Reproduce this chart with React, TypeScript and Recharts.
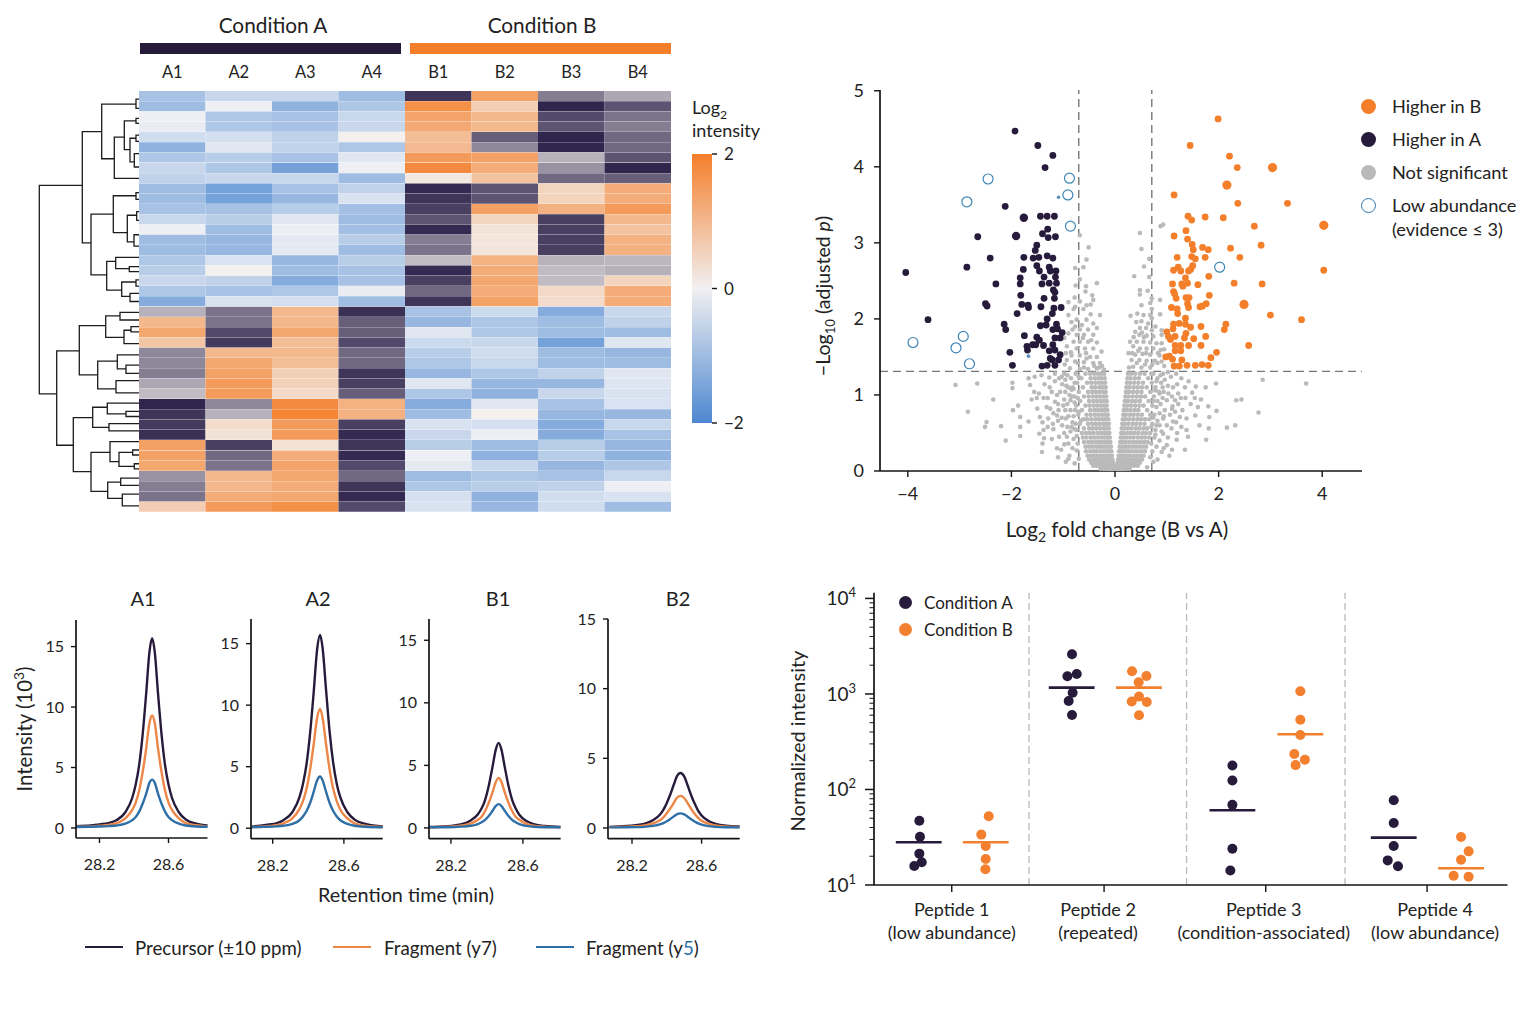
import React from "react";
import {
    BarChart,
    Bar,
    Cell,
    LineChart,
    Line,
    ScatterChart,
    Scatter,
    XAxis,
    YAxis,
    ReferenceLine,
} from "recharts";

const FONT = "Lato";
const DARK = "#271b3b";
const ORANGE = "#f47f2b";
const BLUE = "#2f6fa8";
const GREY = "#bababa";
const AXIS = "#141414";

// ---------- heatmap ----------
const sampleLabels = ["A1", "A2", "A3", "A4", "B1", "B2", "B3", "B4"];
const topRowCount = 21;
const heatA1 = [-.9, -1, -.05, -.1, -.4, -1.2, -.8, -.5, -.6, -1, -1, -.9, -.5, -.05, -1, -1, -.8, -.7, -.5, -.8, -1.3, -.6, 1, 1.3, .75, -1, -1, -1.1, -.7, -.5, -1.95, -1.8, -1.75, -1.85, 1.4, 1.4, 1.3, -.9, -1.1, -1.2, .6];
const heatA2 = [-.5, -.05, -.8, -.8, -.35, -.2, -.7, -.8, -.5, -1.5, -1.5, -.9, -.7, -1, -1.1, -1.1, -.3, 0, -.6, -.9, -.3, -1.2, -1.2, -1.6, -1.75, 1, 1.3, 1.4, 1.5, 1.5, -1, -.6, .35, .25, -1.7, -1.3, -1.2, 1, 1, 1.2, 1.5];
const heatA3 = [-.5, -1.2, -.9, -.9, -.6, -.6, -.9, -1.5, -.5, -.9, -1.1, -.7, -.2, -.05, -.15, -.15, -1.1, -1, -1.3, -.8, -.35, 1, 1, 1.3, .9, 1, .9, .55, .55, .4, 1.8, 1.9, 1.5, 1.5, .25, 1.2, 1.35, 1.3, 1.2, 1.3, 1.7];
const heatA4 = [-1, -.8, -.5, -.5, 0, -.8, -.2, -.05, -1, -.6, -.3, -.95, -1, -.95, -.7, -1, -.7, -.9, -.9, -.1, -1, -1.85, -1.4, -1.4, -1.6, -1.3, -1.3, -1.8, -1.7, -1.4, 1.1, 1.1, -1.7, -1.9, -1.8, -1.9, -1.6, -1.3, -1.8, -1.9, -1.6];
const heatB1 = [-1.8, 1.7, 1.35, 1.25, .9, .95, 1.5, 1.8, .15, -1.9, -1.8, -1.7, -1.5, -1.9, -1.1, -1.2, -.5, -1.9, -1.7, -1.3, -1.8, -.9, -1.1, -.2, -.45, -.7, -.8, -1.1, -.2, -.8, -1.3, -1, -.3, -.5, -.7, -.05, -.15, -1, -.8, -.35, -.3];
const heatB2 = [1.4, .6, 1, 1, -1.4, -1, 1.4, 1.2, .8, -1.5, -1.5, 1.4, .5, .25, .2, .2, 1.1, 1.2, 1.3, 1.2, 1.4, -.45, -.8, -.8, -.5, -.4, -.5, -.8, -1.1, -1.2, -.2, 0, -.35, -.05, -1, -1.2, -.5, -.8, -.7, -1.2, -1.1];
const heatB3 = [-1.1, -1.95, -1.6, -1.5, -1.95, -1.95, -.6, -.9, -1.3, .5, .5, 1.1, -1.7, -1.7, -1.7, -1.7, -.6, -.5, -.5, .4, .35, -1.3, -1, -1, -1.5, -1, -1, -.6, -1.1, -.5, -.9, -1.1, -1.3, -1.3, -.7, -.7, -1.1, -.9, -.6, -.4, -.4];
const heatB4 = [-.7, -1.5, -1.2, -1.1, -1.3, -1.3, -1.5, -1.95, -1.4, 1.2, 1.2, 1.5, 1, .8, 1.1, 1.1, -.55, -.6, .5, 1.2, 1.2, -.5, -.6, -1, -.2, -1.1, -1, -.2, -.25, -.3, -.3, -1.1, -.5, -.9, -1.1, -1.2, -.8, -.5, -.05, -.3, -1];
const heatColumns = [heatA1, heatA2, heatA3, heatA4, heatB1, heatB2, heatB3, heatB4];
const colorbarTicks = [-2, 0, 2];

// each link: child height, child row, merge height, other child row, other child height
const dendrogramLinks = [
    [56.7, 9.2, 99.7, 29.5, 82.3],
    [37.3, 3.96, 56.7, 14.8, 48],
    [3, 1.27, 37.3, 6.6, 24.7],
    [0, .8, 3, 1.7, 0],
    [14.7, 4.5, 24.7, 8.5, 0],
    [3, 2.9, 14.7, 5.7, 9],
    [0, 2.66, 3, 3.15, 0],
    [3, 4.6, 9, 6.9, 4.7],
    [0, 4.3, 3, 4.9, 0],
    [0, 6.1, 4.7, 7.4, 0],
    [25.7, 12, 48, 17.9, 32.3],
    [3, 10.2, 25.7, 13.8, 11.7],
    [0, 9.9, 3, 10.55, 0],
    [2.3, 12.1, 11.7, 14.7, 5],
    [0, 11.75, 2.3, 12.6, 0],
    [0, 14, 5, 15.1, 0],
    [23.3, 16.6, 32.3, 19.4, 17.3],
    [0, 16.2, 23.3, 17.3, 9.7],
    [0, 17.1, 9.7, 17.6, 0],
    [3, 18.6, 17.3, 20, 9],
    [0, 18.4, 3, 19, 0],
    [0, 19.7, 9, 20.5, 0],
    [59.7, 25.3, 82.3, 34.5, 65.7],
    [33.3, 22.85, 59.7, 27.65, 41.3],
    [19, 21.9, 33.3, 24, 15],
    [0, 21.55, 19, 22.3, 0],
    [8, 23.3, 15, 24.6, 0],
    [0, 22.95, 8, 23.45, 0],
    [21.7, 26.3, 41.3, 29, 23],
    [0, 25.7, 21.7, 27.07, 13],
    [0, 26.7, 13, 27.5, 0],
    [0, 28.2, 23, 29.4, 0],
    [46.3, 31.8, 65.7, 37.07, 48],
    [31.7, 30.8, 46.3, 32.75, 30],
    [0, 30.4, 31.7, 31.45, 13],
    [0, 31.2, 13, 31.7, 0],
    [0, 32.4, 30, 33.1, 0],
    [29, 35.2, 48, 39, 31.3],
    [0, 34.15, 29, 36.1, 20],
    [6.3, 35.2, 20, 36.55, 4.7],
    [0, 34.96, 6.3, 35.45, 0],
    [0, 36.3, 4.7, 36.8, 0],
    [18.3, 38.1, 31.3, 39.67, 16.7],
    [0, 37.7, 18.3, 38.4, 0],
    [0, 39.25, 16.7, 40.4, 0],
];

// ---------- volcano ----------
const higherB = [
    [1.99, 4.63], [1.45, 4.28], [2.21, 4.14], [2.36, 3.99], [1.14, 3.63], [2.37, 3.52], [3.33, 3.52], [1.41, 3.35], [1.74, 3.34], [2.09, 3.33],
    [1.48, 3.3], [2.69, 3.22], [1.37, 3.16], [1.14, 3.09], [1.4, 3.05], [1.49, 2.98], [1.51, 2.91], [1.69, 2.94], [1.8, 2.91], [2.23, 2.93],
    [2.82, 2.97], [1.2, 2.81], [1.48, 2.82], [1.55, 2.79], [1.74, 2.81], [2.41, 2.81], [1.5, 2.7], [1.13, 2.64], [1.22, 2.68], [1.27, 2.63],
    [1.42, 2.63], [1.46, 2.65], [4.03, 2.64], [1.81, 2.56], [1.36, 2.54], [1.11, 2.46], [1.29, 2.46], [1.31, 2.43], [1.4, 2.47], [1.6, 2.45],
    [2.3, 2.47], [2.84, 2.46], [1.13, 2.36], [1.15, 2.33], [1.18, 2.27], [1.37, 2.28], [1.43, 2.28], [1.82, 2.31], [1.4, 2.2], [1.76, 2.2],
    [1.09, 2.15], [1.42, 2.15], [1.64, 2.16], [1.69, 2.17], [1.2, 2.13], [1.21, 2.07], [1.36, 2.01], [3, 2.05], [3.6, 1.99], [1.13, 1.93],
    [1.24, 1.94], [1.36, 1.93], [1.66, 1.9], [2.14, 1.93], [2.11, 1.86], [1.46, 1.89], [1.12, 1.87], [1, 1.83], [1.37, 1.81], [1.75, 1.77],
    [1.03, 1.77], [1.16, 1.77], [1.34, 1.75], [1.07, 1.73], [1.52, 1.74], [2.58, 1.65], [1.16, 1.65], [1.27, 1.65], [1.42, 1.65], [1.66, 1.65],
    [1.16, 1.58], [1.27, 1.58], [1.96, 1.56], [1.05, 1.51], [.98, 1.5], [1.11, 1.47], [1.29, 1.46], [1.85, 1.49], [1.14, 1.38], [1.24, 1.38],
    [1.39, 1.39], [1.55, 1.39], [1.68, 1.4], [1.8, 1.39],
];
const higherBLarge = [[3.04, 3.99], [2.16, 3.76], [4.03, 3.23], [2.49, 2.19]];
const higherA = [
    [-1.93, 4.47], [-1.49, 4.28], [-1.2, 4.15], [-1.35, 3.99], [-2.12, 3.48], [-1.44, 3.35], [-1.31, 3.35], [-1.17, 3.35], [-2.65, 3.08], [-1.3, 3.18],
    [-1.4, 3.12], [-1.29, 3.07], [-1.15, 3.08], [-1.51, 2.97], [-1.54, 2.9], [-2.41, 2.8], [-1.76, 2.81], [-1.58, 2.8], [-1.47, 2.81], [-1.31, 2.83],
    [-1.2, 2.8], [-2.86, 2.68], [-4.04, 2.61], [-1.77, 2.65], [-1.51, 2.7], [-1.46, 2.63], [-1.27, 2.68], [-1.25, 2.63], [-1.14, 2.63], [-1.83, 2.54],
    [-1.37, 2.55], [-1.15, 2.55], [-1.83, 2.46], [-2.3, 2.46], [-1.41, 2.46], [-1.27, 2.47], [-1.13, 2.47], [-1.19, 2.38], [-1.16, 2.35], [-1.82, 2.31],
    [-1.37, 2.27], [-1.17, 2.27], [-2.5, 2.2], [-2.47, 2.17], [-1.8, 2.19], [-1.68, 2.18], [-1.67, 2.15], [-1.43, 2.16], [-1.18, 2.14], [-1.04, 2.15],
    [-1.21, 2.07], [-1.89, 2.07], [-1.31, 2], [-3.61, 1.99], [-2.14, 1.93], [-2.11, 1.86], [-1.33, 1.92], [-1.44, 1.91], [-1.13, 1.93], [-1.2, 1.86],
    [-1.11, 1.87], [-1.02, 1.82], [-1.75, 1.78], [-1.51, 1.76], [-1.16, 1.75], [-1.06, 1.75], [-1.46, 1.72], [-1.7, 1.64], [-1.69, 1.59], [-1.59, 1.66],
    [-1.53, 1.66], [-1.38, 1.65], [-1.2, 1.66], [-1.16, 1.59], [-1.27, 1.58], [-2.03, 1.56], [-1.06, 1.53], [-1.25, 1.48], [-1.21, 1.46], [-1.09, 1.46],
    [-1.98, 1.39], [-1.41, 1.38], [-1.31, 1.39], [-1.16, 1.39],
];
const higherALarge = [[-1.76, 3.33], [-1.91, 3.09]];
const lowAbundance = [[-2.45, 3.84], [-2.86, 3.54], [-.88, 3.85], [-.91, 3.63], [-.86, 3.22], [-2.93, 1.77], [-3.9, 1.69], [-3.07, 1.62], [-2.81, 1.41], [2.02, 2.68]];
const strayBlue = [[-1.09, 3.6], [-1.67, 1.51]];
const notSignificantSparse = [
    [-3.08, 1.13], [-2.66, 1.15], [-2.35, .94], [-2.84, .78], [-2.48, .645], [-2.51, .58], [-2.2, .59], [-2.11, .4], [-1.98, 1.16], [-1.98, 1.09],
    [-1.87, .86], [-1.97, .8], [-1.83, .71], [-1.67, .65], [-1.83, .58], [-1.83, .46], [-1.67, 1.22], [-1.64, 1.13], [-1.56, 1.04], [-1.47, 1.02],
    [-1.61, .94], [-1.51, .96], [-1.38, .96], [-1.3, .96], [-1.27, 1.23], [-1.26, 1.1], [-1.16, 1.18], [-1.06, 1.04], [-1.03, 1.24], [-1.16, .91],
    [-1.09, .8], [-1.19, .76], [-1.45, .71], [-1.4, .64], [-1.29, .69], [-1.03, .7], [-.95, .69], [-1.38, .54], [-1.46, .49], [-1.37, .43],
    [-1.4, .36], [-1.41, .25], [-1.1, .18], [-1.19, .55], [-1.04, .28], [-.93, .45], [-.9, .36], [-.84, .58], [-.86, .93], [-.84, 1.07], [-.77, .8],
    [2.85, 1.2], [3.69, 1.15], [2.44, .94], [2.34, .93], [2.77, .77], [2.16, .57], [2.32, .6], [1.76, .41], [1.81, .56], [1.63, .6],
    [1.41, .45], [1.35, .28], [1.96, .79], [1.8, .85], [1.82, .71], [1.55, .73], [1.66, .94], [1.95, 1.15], [1.75, 1.1], [1.56, 1.11],
    [1.49, 1.03], [1.35, 1.1], [1.28, 1.22], [1.36, .96], [1.27, .96], [1.54, .96], [1.12, 1.1], [1.03, 1.02], [1, .93], [1.16, .93],
    [1.11, .85], [1.16, .78], [1.06, .74], [.93, .69], [1.25, .71], [1.38, .69], [1.38, .54], [1.12, .65], [1.09, .56], [1.19, .41],
    [1, .34], [.9, .25], [1.05, .2], [.93, .49],
    [-.68, 3.1], [-.51, 2.94], [-.55, 2.78], [-.77, 2.67], [-.61, 2.68], [-.68, 2.52], [-.35, 2.47], [-.76, 2.44], [-.56, 2.43], [-.57, 2.36],
    [-.44, 2.31], [-.42, 2.25], [-.9, 2.22], [-.77, 2.16], [-.68, 2.23], [-.47, 2.19], [-.61, 2.13], [-.8, 2.13], [-.9, 2.05], [-.47, 2.06],
    [-.29, 2.05], [-.74, 1.99], [-.55, 1.99], [-.42, 1.94], [-.84, 1.96], [-.64, 1.92], [-.82, 1.86], [-.68, 1.86], [-.52, 1.86], [-.35, 1.88],
    [-.9, 1.81], [-.74, 1.79], [-.6, 1.79], [-.42, 1.79], [-.8, 1.7], [-.68, 1.7], [-.52, 1.7], [-.35, 1.69], [-.93, 1.64], [-.74, 1.61],
    [-.58, 1.61], [-.42, 1.61], [-.26, 1.57], [-.84, 1.52], [-.68, 1.52], [-.48, 1.5], [-.35, 1.5], [-.93, 1.46], [-.77, 1.44], [-.6, 1.43],
    [-.42, 1.42], [-.29, 1.42], [-.87, 1.35], [-.68, 1.34], [-.52, 1.34], [-.35, 1.35], [-.21, 1.33],
    [.93, 3.24], [.88, 3.22], [.48, 3.13], [.51, 2.92], [.66, 2.79], [.56, 2.69], [.37, 2.56], [.66, 2.55], [.48, 2.38], [.63, 2.37],
    [.48, 2.32], [.71, 2.27], [.87, 2.25], [.51, 2.18], [.68, 2.21], [.71, 2.13], [.43, 2.07], [.3, 2.04], [.55, 2.05], [.68, 2.05],
    [.87, 2.06], [.41, 1.96], [.51, 1.97], [.64, 1.94], [.71, 2.01], [.48, 1.88], [.6, 1.88], [.39, 1.83], [.71, 1.85], [.9, 1.85],
    [.47, 1.79], [.61, 1.78], [.74, 1.77], [.9, 1.79], [.29, 1.7], [.42, 1.7], [.55, 1.7], [.68, 1.69], [.8, 1.68], [.35, 1.64],
    [.48, 1.61], [.61, 1.61], [.74, 1.61], [.88, 1.59], [.26, 1.55], [.39, 1.53], [.53, 1.54], [.68, 1.53], [.86, 1.52], [.32, 1.46],
    [.47, 1.46], [.61, 1.45], [.77, 1.45], [.9, 1.44], [.35, 1.37], [.51, 1.36], [.68, 1.36], [.82, 1.42],
    // looser ring around the V
    [-.95, .12], [-.78, .1], [-.7, .16], [-.88, .2], [-.74, .27], [-.82, .3], [-.98, .35], [-.72, .36], [-1.12, .3], [-.8, .42],
    [-.98, .5], [-.74, .46], [-.86, .52], [-1.08, .45], [-1.22, .42], [-.78, .55], [-.92, .58], [-1.02, .6], [-1.2, .62], [-1.3, .58],
    [-.82, .64], [-.9, .72], [-.8, .72], [-1.1, .66], [-1.12, .73], [-.96, .8], [-.86, .8], [-1, .86], [-.92, .88], [-1.25, .82],
    [-1.32, .84], [-1.1, .88], [-.98, .94], [-.88, 1], [-.96, 1.04], [-1.12, 1], [-1.22, 1.04], [-.94, 1.12], [-1.02, 1.14], [-1.08, 1.22],
    [-.96, 1.2], [-1.16, 1.28], [-1.36, 1.14], [-1.42, 1.26], [-.98, 1.28], [-1.5, .82], [-1.55, 1.24], [-.9, .16],
    [.62, .05], [.74, .12], [.68, .18], [.82, .15], [.72, .26], [.94, .3], [.8, .32], [.7, .36], [.86, .4], [1.1, .28],
    [.76, .44], [1.02, .44], [.9, .52], [.78, .54], [1.2, .5], [.86, .6], [1, .6], [1.28, .58], [.82, .66], [1.18, .64],
    [.94, .72], [.86, .76], [1.3, .8], [.96, .8], [1.1, .82], [.88, .88], [1.22, .88], [.92, .96], [1.1, .98], [1.22, 1.02],
    [.94, 1.04], [1.02, 1.12], [1.2, 1.14], [.96, 1.2], [1.08, 1.24], [1.18, 1.28], [1.42, 1.18], [1.46, .88], [1.02, 1.3], [1.6, .84],
    [-.76, .62], [-.7, .78], [-.78, .9], [-.72, .96], [-.84, .98], [-.8, 1.08], [-.9, 1.1], [-.78, 1.16], [-.92, 1.26], [-.7, 1.24], [-.74, .54], [-.66, .66],
    [.8, .6], [.74, .7], [.8, .84], [.74, .92], [.86, 1.02], [.78, 1.06], [.92, 1.1], [.8, 1.18], [.88, 1.26], [.7, 1.28], [.78, .48], [.7, .58],
    // more of the cloud just above the threshold
    [-.85, 1.56], [-.55, 1.48], [-.72, 1.42], [-.6, 1.36], [-.4, 1.38], [-.77, 1.9], [-.62, 1.75], [-.46, 1.72], [-.56, 1.55], [-.3, 1.36],
    [-.25, 1.38], [-.97, 1.4], [-.95, 1.55], [-.98, 1.75], [-.78, 2.28], [-.55, 2.18],
    [.58, 1.4], [.42, 1.42], [.27, 1.36], [.72, 1.4], [.6, 1.55], [.45, 1.58], [.33, 1.55], [.56, 1.76], [.83, 1.55], [.95, 1.6],
    [.95, 1.38], [.9, 1.68], [.52, 1.82], [.78, 1.9], [.36, 1.76],
];
// the dense V is read band by band: [-log10 p, fold changes in that band]
const notSignificantBands: [number, number[]][] = [
    [.03, [-.28, -.22, -.17, -.13, -.1, -.07, -.04, 0, .04, .07, .1, .13, .17, .22, .28]],
    [.07, [-.42, -.36, -.3, -.25, -.2, -.15, -.1, -.06, -.02, .02, .06, .1, .15, .2, .25, .31, .37, .44]],
    [.11, [-.46, -.39, -.33, -.27, -.21, -.16, -.11, -.07, -.04, .05, .08, .12, .17, .23, .29, .35, .41, .48]],
    [.15, [-.5, -.43, -.37, -.3, -.24, -.18, -.13, -.08, -.05, .06, .09, .14, .2, .26, .32, .39, .45, .52]],
    [.2, [-.53, -.46, -.39, -.33, -.27, -.21, -.15, -.1, -.06, .07, .11, .16, .22, .28, .35, .42, .49, .55]],
    [.26, [-.56, -.48, -.41, -.35, -.28, -.22, -.17, -.12, -.07, .08, .13, .18, .24, .3, .37, .44, .51, .58]],
    [.32, [-.57, -.5, -.43, -.36, -.3, -.24, -.18, -.13, -.08, .09, .14, .2, .26, .33, .4, .47, .54, .6]],
    [.38, [-.6, -.52, -.45, -.38, -.31, -.25, -.19, -.14, -.09, .1, .15, .21, .28, .35, .42, .49, .56, .63]],
    [.44, [-.62, -.55, -.47, -.4, -.33, -.26, -.2, -.15, -.1, .11, .16, .22, .29, .36, .44, .51, .58, .66]],
    [.5, [-.64, -.56, -.49, -.42, -.34, -.27, -.21, -.16, -.11, .12, .17, .24, .31, .38, .45, .53, .6, .68]],
    [.56, [-.6, -.5, -.43, -.36, -.29, -.22, -.17, -.12, .13, .18, .25, .32, .4, .47, .55, .62]],
    [.62, [-.68, -.52, -.44, -.37, -.3, -.23, -.18, -.12, .14, .19, .26, .34, .41, .49, .57, .72]],
    [.68, [-.61, -.54, -.46, -.38, -.31, -.24, -.18, -.13, .15, .2, .27, .35, .43, .5, .58, .66]],
    [.74, [-.71, -.55, -.47, -.39, -.32, -.25, -.19, -.14, .16, .21, .29, .36, .44, .52, .68, .76]],
    [.8, [-.64, -.48, -.4, -.33, -.26, -.2, -.15, .17, .23, .3, .38, .45, .62]],
    [.86, [-.75, -.57, -.49, -.41, -.34, -.27, -.21, -.16, .18, .24, .31, .39, .47, .55, .72]],
    [.92, [-.67, -.5, -.42, -.35, -.28, -.22, -.16, .19, .25, .33, .4, .48, .65, .82]],
    [.98, [-.78, -.6, -.51, -.43, -.36, -.29, -.22, -.17, .2, .26, .34, .42, .5, .58, .75]],
    [1.04, [-.7, -.52, -.44, -.37, -.3, -.23, -.18, .21, .27, .35, .43, .51, .68, .85]],
    [1.1, [-.82, -.62, -.45, -.38, -.3, -.24, -.18, .22, .28, .36, .44, .52, .61, .78]],
    [1.16, [-.73, -.54, -.46, -.38, -.31, -.25, -.19, .23, .29, .37, .45, .54, .71, .89]],
    [1.22, [-.85, -.65, -.47, -.39, -.32, -.26, -.2, .24, .3, .38, .46, .64, .82]],
    [1.28, [-.76, -.57, -.48, -.4, -.33, -.27, -.21, .25, .31, .39, .48, .57, .74, .93]],
];
const foldThresholds = [-.7, .71];
const pThreshold = 1.31;
const volcanoXTicks = [-4, -2, 0, 2, 4];
const volcanoYTicks = [0, 1, 2, 3, 4, 5];

// ---------- chromatograms ----------
const rtA1 = [28.06, 28.15, 28.2, 28.25, 28.3, 28.35, 28.39, 28.41, 28.43, 28.45, 28.47, 28.49, 28.505, 28.52, 28.54, 28.56, 28.58, 28.6, 28.62, 28.66, 28.7, 28.76, 28.83];
const precursorA1 = [.15, .2, .3, .4, .65, 1.3, 2.5, 3.6, 5.2, 7.7, 11, 14.6, 15.7, 14.6, 11, 7.7, 5.2, 3.6, 2.5, 1.3, .7, .35, .2];
const y7A1 = [.1, .12, .18, .25, .4, .8, 1.5, 2.1, 3.1, 4.6, 6.5, 8.7, 9.3, 8.7, 6.5, 4.6, 3.1, 2.1, 1.5, .8, .4, .22, .12];
const y5A1 = [.08, .1, .12, .15, .2, .35, .65, .9, 1.35, 2, 2.8, 3.75, 4, 3.75, 2.8, 2, 1.35, .9, .65, .35, .2, .12, .1];
const rtA2 = [28.08, 28.13, 28.18, 28.22, 28.26, 28.31, 28.35, 28.37, 28.39, 28.41, 28.43, 28.45, 28.466, 28.48, 28.5, 28.52, 28.54, 28.56, 28.58, 28.62, 28.66, 28.72, 28.82];
const precursorA2 = [.15, .2, .3, .4, .65, 1.3, 2.5, 3.6, 5.2, 7.7, 11, 14.6, 15.7, 14.7, 11.2, 7.8, 5.3, 3.6, 2.5, 1.3, .7, .35, .15];
const y7A2 = [.1, .12, .18, .25, .4, .8, 1.55, 2.2, 3.2, 4.75, 6.8, 9, 9.7, 9, 6.8, 4.75, 3.2, 2.2, 1.5, .8, .4, .2, .1];
const y5A2 = [.08, .1, .12, .15, .2, .35, .65, .95, 1.4, 2.05, 2.95, 3.9, 4.2, 3.9, 2.95, 2.05, 1.4, .95, .65, .35, .2, .12, .08];
const rtB1 = [28.08, 28.13, 28.18, 28.22, 28.26, 28.31, 28.35, 28.37, 28.39, 28.41, 28.43, 28.45, 28.465, 28.48, 28.5, 28.52, 28.54, 28.56, 28.58, 28.62, 28.66, 28.72, 28.81];
const precursorB1 = [.08, .1, .14, .2, .3, .6, 1.1, 1.55, 2.25, 3.35, 4.8, 6.3, 6.8, 6.3, 4.8, 3.35, 2.25, 1.55, 1.05, .55, .3, .15, .08];
const y7B1 = [.06, .08, .1, .13, .2, .35, .65, .9, 1.35, 2, 2.8, 3.7, 4, 3.7, 2.8, 2, 1.35, .9, .65, .33, .18, .1, .06];
const y5B1 = [.05, .05, .06, .08, .1, .17, .3, .45, .65, .95, 1.35, 1.77, 1.9, 1.77, 1.35, .95, .65, .45, .3, .16, .09, .06, .05];
const rtB2 = [28.07, 28.12, 28.17, 28.22, 28.27, 28.32, 28.36, 28.38, 28.4, 28.42, 28.44, 28.46, 28.478, 28.5, 28.52, 28.54, 28.56, 28.58, 28.6, 28.64, 28.68, 28.74, 28.82];
const precursorB2 = [.08, .1, .14, .2, .3, .55, .95, 1.3, 1.8, 2.4, 3.1, 3.75, 3.95, 3.7, 3.05, 2.35, 1.75, 1.25, .9, .5, .3, .16, .1];
const y7B2 = [.06, .07, .09, .12, .18, .32, .55, .75, 1.05, 1.4, 1.8, 2.2, 2.3, 2.15, 1.78, 1.37, 1.02, .73, .52, .3, .18, .1, .06];
const y5B2 = [.04, .04, .05, .06, .08, .15, .25, .35, .48, .64, .83, 1, 1.05, .98, .81, .62, .47, .33, .24, .13, .08, .05, .04];
const intensityTicks = [0, 5, 10, 15];
const rtTicks = [28.2, 28.6];

// ---------- peptides ----------
const peptideNames = ["Peptide 1", "Peptide 2", "Peptide 3", "Peptide 4"];
const peptideNotes = ["(low abundance)", "(repeated)", "(condition-associated)", "(low abundance)"];
const peptideTicks = [.492, 1.456, 2.479, 3.5];
const peptideSeparators = [.981, 1.978, 2.981];
const conditionA = [
    [.287, 47], [.291, 32], [.287, 21.3], [.302, 17.3], [.255, 15.8],
    [1.253, 2600], [1.224, 1530], [1.283, 1620], [1.257, 1030], [1.232, 845], [1.253, 603],
    [2.268, 178], [2.268, 124], [2.268, 69], [2.268, 24], [2.255, 14.2],
    [3.289, 77], [3.289, 44.6], [3.289, 25.6], [3.251, 18.1], [3.316, 15.7],
];
const conditionB = [
    [.726, 52.4], [.679, 33.7], [.707, 25.6], [.707, 18.7], [.705, 14.6],
    [1.633, 1725], [1.724, 1542], [1.675, 1324], [1.677, 938], [1.631, 832], [1.726, 824], [1.677, 598],
    [2.698, 1067], [2.698, 538], [2.698, 372], [2.66, 235], [2.727, 205], [2.668, 180],
    [3.715, 31.8], [3.763, 22.5], [3.715, 18.4], [3.668, 12.5], [3.763, 12.2],
];
const meansA = [[.283, 28], [1.251, 1164], [2.268, 60.5], [3.289, 31.3]];
const meansB = [[.707, 28], [1.677, 1164], [2.698, 378], [3.715, 15]];
const meanHalfWidth = .145;
const logTicks = [10, 20, 30, 40, 50, 60, 70, 80, 90, 100, 200, 300, 400, 500, 600, 700, 800, 900, 1000, 2000, 3000, 4000, 5000, 6000, 7000, 8000, 9000, 10000];

const toPoints = (list: number[][]) => list.map(([x, y]) => ({ x, y }));

const mixHex = (a: string, b: string, t: number) => {
    const channel = (hex: string, i: number) => parseInt(hex.slice(1 + i * 2, 3 + i * 2), 16);
    const out = [0, 1, 2].map((i) => Math.round(channel(a, i) + (channel(b, i) - channel(a, i)) * t));
    return `rgb(${out.join(",")})`;
};

// the inactive condition of a row block is on the blue ramp, the active one runs dark to orange
const heatColor = (value: number, row: number, col: number) => {
    const active = row < topRowCount ? col >= 4 : col < 4;
    if (value >= 0) return mixHex("#f3f0ee", ORANGE, value / 2);
    if (active) return mixHex("#f3efec", "#2b2049", -value / 2);
    return mixHex("#f1f2f5", "#4d87d1", -value / 2);
};

const heatTable = heatA1.map((_, row) => {
    const entry: Record<string, number | string> = { row: String(row) };
    sampleLabels.forEach((label) => { entry[label] = 1; });
    return entry;
});

const dot = (r: number, fill: string, stroke = "none", strokeWidth = 0) => (props: any) => (
    <circle cx={props.cx} cy={props.cy} r={r} fill={fill} stroke={stroke} strokeWidth={strokeWidth} />
);

const Label = ({ x, y, size = 18, weight = 400, rotate = 0, align = "center", children }: any) => (
    <div
        style={{
            position: "absolute",
            left: x,
            top: y - 1,
            transform: `translate(${align === "center" ? "-50%" : "0"}, -50%) rotate(${rotate}deg)`,
            fontSize: size,
            fontWeight: weight,
            color: "#222",
            whiteSpace: "nowrap",
            lineHeight: 1,
        }}
    >
        {children}
    </div>
);

const Sub = ({ children }: any) => <sub style={{ fontSize: "68%", lineHeight: 0 }}>{children}</sub>;
const Sup = ({ children }: any) => <sup style={{ fontSize: "68%", lineHeight: 0 }}>{children}</sup>;

const LegendDot = ({ x, y, r, fill, stroke }: any) => (
    <div
        style={{
            position: "absolute",
            left: x - r,
            top: y - r,
            width: r * 2,
            height: r * 2,
            boxSizing: "border-box",
            borderRadius: "50%",
            background: fill,
            border: stroke ? `1.6px solid ${stroke}` : "none",
        }}
    />
);

const LegendLine = ({ x, y, width, color }: any) => (
    <div style={{ position: "absolute", left: x, top: y - 1, width, height: 2.4, background: color }} />
);

const minus = (v: number) => String(v).replace("-", "\u2212");
const axisLine = { stroke: AXIS, strokeWidth: 1.7 };
const tickLine = { stroke: AXIS, strokeWidth: 1.4 };

const Heatmap = () => (
    <div style={{ position: "absolute", left: 139, top: 58 }}>
        <BarChart
            width={532}
            height={454}
            data={heatTable}
            layout="vertical"
            barCategoryGap={0}
            margin={{ top: 0, right: 0, bottom: 0, left: 0 }}
        >
            <XAxis
                type="number"
                orientation="top"
                domain={[0, 8]}
                ticks={[.5, 1.5, 2.5, 3.5, 4.5, 5.5, 6.5, 7.5]}
                tickFormatter={(v: number) => sampleLabels[Math.floor(v)]}
                axisLine={false}
                tickLine={false}
                height={33}
                tickMargin={7}
                interval={0}
                tick={{ fill: "#222", fontSize: 16.5, fontFamily: FONT }}
            />
            <YAxis type="category" dataKey="row" hide />
            {sampleLabels.map((label, col) => (
                <Bar key={label} dataKey={label} stackId="heat" isAnimationActive={false}>
                    {heatColumns[col].map((value, row) => (
                        <Cell key={row} fill={heatColor(value, row, col)} />
                    ))}
                </Bar>
            ))}
        </BarChart>
    </div>
);

const Dendrogram = () => (
    <div style={{ position: "absolute", left: 38, top: 91 }}>
        <ScatterChart width={101} height={421} margin={{ top: 0, right: 0, bottom: 0, left: 0 }}>
            <XAxis type="number" dataKey="x" domain={[0, 101]} reversed hide />
            <YAxis type="number" dataKey="y" domain={[0, 41]} reversed hide />
            {dendrogramLinks.map(([h1, y1, merge, y2, h2], i) => (
                <Scatter
                    key={i}
                    data={[
                        { x: h1, y: y1 },
                        { x: merge, y: y1 },
                        { x: merge, y: y2 },
                        { x: h2, y: y2 },
                    ]}
                    line={{ stroke: "#1c1c1c", strokeWidth: 1.3 }}
                    shape={() => <g />}
                    isAnimationActive={false}
                />
            ))}
        </ScatterChart>
    </div>
);

const Colorbar = () => (
    <div style={{ position: "absolute", left: 692, top: 144 }}>
        <BarChart
            width={80}
            height={289}
            data={[{ name: "scale", range: [-2, 2] }]}
            barCategoryGap={0}
            margin={{ top: 10, right: 0, bottom: 10, left: 0 }}
        >
            <defs>
                <linearGradient id="heatRamp" x1="0" y1="0" x2="0" y2="1">
                    <stop offset="0%" stopColor={ORANGE} />
                    <stop offset="50%" stopColor="#f1f0f1" />
                    <stop offset="100%" stopColor="#4d87d1" />
                </linearGradient>
            </defs>
            <XAxis dataKey="name" hide />
            <YAxis
                orientation="right"
                type="number"
                domain={[-2, 2]}
                ticks={colorbarTicks}
                width={60}
                axisLine={false}
                tickLine={tickLine}
                tickSize={5}
                tickMargin={7}
                tickFormatter={minus}
                tick={{ fill: "#222", fontSize: 17, fontFamily: FONT }}
            />
            <Bar dataKey="range" fill="url(#heatRamp)" isAnimationActive={false} />
        </BarChart>
    </div>
);

const Volcano = () => {
    const greyPoints = [
        ...notSignificantBands.flatMap(([y, xs]) => xs.map((x) => ({ x, y }))),
        ...toPoints(notSignificantSparse),
    ];
    return (
        <div style={{ position: "absolute", left: 830, top: 80 }}>
            <ScatterChart width={540} height={430} margin={{ top: 10, right: 8, bottom: 0, left: 0 }}>
                <XAxis
                    type="number"
                    dataKey="x"
                    domain={[-4.537, 4.768]}
                    ticks={volcanoXTicks}
                    height={39}
                    axisLine={axisLine}
                    tickLine={tickLine}
                    tickSize={6}
                    tickMargin={10}
                    tickFormatter={minus}
                    allowDataOverflow
                    tick={{ fill: "#222", fontSize: 18, fontFamily: FONT }}
                />
                <YAxis
                    type="number"
                    dataKey="y"
                    domain={[0, 5.01]}
                    ticks={volcanoYTicks}
                    width={50}
                    axisLine={axisLine}
                    tickLine={tickLine}
                    tickSize={6}
                    tickMargin={10}
                    allowDataOverflow
                    tick={{ fill: "#222", fontSize: 18, fontFamily: FONT }}
                />
                <Scatter data={greyPoints} shape={dot(2.3, GREY)} isAnimationActive={false} />
                {foldThresholds.map((x) => (
                    <ReferenceLine key={x} x={x} stroke="#777" strokeWidth={1.4} strokeDasharray="8 5" />
                ))}
                <ReferenceLine y={pThreshold} stroke="#777" strokeWidth={1.4} strokeDasharray="8 5" />
                <Scatter data={toPoints(higherB)} shape={dot(3.4, ORANGE)} isAnimationActive={false} />
                <Scatter data={toPoints(higherBLarge)} shape={dot(4.6, ORANGE)} isAnimationActive={false} />
                <Scatter data={toPoints(higherA)} shape={dot(3.4, DARK)} isAnimationActive={false} />
                <Scatter data={toPoints(higherALarge)} shape={dot(4.2, DARK)} isAnimationActive={false} />
                <Scatter data={toPoints(strayBlue)} shape={dot(1.8, "#5b8fbd")} isAnimationActive={false} />
                <Scatter
                    data={toPoints(lowAbundance)}
                    shape={dot(5, "#fff", "#3f86b5", 1.2)}
                    isAnimationActive={false}
                />
            </ScatterChart>
        </div>
    );
};

const Chromatogram = ({ left, top, width, height, xDomain, yDomain, rt, precursor, y7, y5 }: any) => {
    const table = rt.map((t: number, i: number) => ({ t, precursor: precursor[i], y7: y7[i], y5: y5[i] }));
    return (
        <div style={{ position: "absolute", left: left - 40, top: top - 10 }}>
            <LineChart
                width={width + 46}
                height={height + 50}
                data={table}
                margin={{ top: 10, right: 6, bottom: 0, left: 0 }}
            >
                <XAxis
                    type="number"
                    dataKey="t"
                    domain={xDomain}
                    ticks={rtTicks}
                    height={40}
                    axisLine={axisLine}
                    tickLine={tickLine}
                    tickSize={5}
                    tickMargin={16}
                    allowDataOverflow
                    tickFormatter={(v: number) => v.toFixed(1)}
                    tick={{ fill: "#222", fontSize: 16, fontFamily: FONT }}
                />
                <YAxis
                    type="number"
                    domain={yDomain}
                    ticks={intensityTicks}
                    width={40}
                    axisLine={axisLine}
                    tickLine={tickLine}
                    tickSize={5}
                    tickMargin={7}
                    allowDataOverflow
                    tick={{ fill: "#222", fontSize: 16, fontFamily: FONT }}
                />
                <Line type="monotone" dataKey="precursor" stroke={DARK} strokeWidth={2.4} dot={false} isAnimationActive={false} />
                <Line type="monotone" dataKey="y7" stroke="#ec8748" strokeWidth={2.4} dot={false} isAnimationActive={false} />
                <Line type="monotone" dataKey="y5" stroke={BLUE} strokeWidth={2.4} dot={false} isAnimationActive={false} />
            </LineChart>
        </div>
    );
};

const LogTick = ({ x, y, payload }: any) => {
    const exponent = Math.log10(payload.value);
    const major = Math.abs(exponent - Math.round(exponent)) < 1e-6;
    return (
        <g>
            <line x1={x} x2={x - (major ? 9 : 4.5)} y1={y} y2={y} stroke={AXIS} strokeWidth={major ? 1.5 : 1} />
            {major && (
                <text x={x - 18} y={y + 7} textAnchor="end" fill="#222" fontSize={19} fontFamily={FONT}>
                    <tspan>10</tspan>
                    <tspan dy={-8} fontSize={13}>{Math.round(exponent)}</tspan>
                </text>
            )}
        </g>
    );
};

const peptideLabelShift = [0, -6, -2, 8];

const PeptideTick = ({ x, y, index }: any) => (
    <g>
        <line x1={x} x2={x} y1={y} y2={y + 7} stroke={AXIS} strokeWidth={1.4} />
        <text x={x + peptideLabelShift[index]} y={y + 31} textAnchor="middle" fill="#222" fontSize={18} fontFamily={FONT}>
            {peptideNames[index]}
        </text>
        <text x={x + peptideLabelShift[index]} y={y + 54} textAnchor="middle" fill="#222" fontSize={18} fontFamily={FONT}>
            {peptideNotes[index]}
        </text>
    </g>
);

const Peptides = () => (
    <div style={{ position: "absolute", left: 814, top: 583 }}>
        <ScatterChart width={696} height={372} margin={{ top: 9.7, right: 2.5, bottom: 0, left: 0 }}>
            <XAxis
                type="number"
                dataKey="x"
                domain={[0, 4.009]}
                ticks={peptideTicks}
                height={70}
                axisLine={axisLine}
                tickSize={0}
                tickMargin={0}
                tickLine={false}
                interval={0}
                tick={PeptideTick}
            />
            <YAxis
                type="number"
                dataKey="y"
                scale="log"
                domain={[10, 11480]}
                ticks={logTicks}
                width={60}
                interval={0}
                axisLine={axisLine}
                tickSize={0}
                tickMargin={0}
                tickLine={false}
                allowDataOverflow
                tick={LogTick}
            />
            {peptideSeparators.map((x) => (
                <ReferenceLine key={x} x={x} stroke="#bdbdbd" strokeWidth={1.4} strokeDasharray="7 4" />
            ))}
            <Scatter data={toPoints(conditionA)} shape={dot(5, DARK)} isAnimationActive={false} />
            <Scatter data={toPoints(conditionB)} shape={dot(5, "#f2802f")} isAnimationActive={false} />
            {meansA.map(([x, y]) => (
                <ReferenceLine
                    key={x}
                    segment={[{ x: x - meanHalfWidth, y }, { x: x + meanHalfWidth, y }]}
                    stroke={DARK}
                    strokeWidth={2.6}
                />
            ))}
            {meansB.map(([x, y]) => (
                <ReferenceLine
                    key={x}
                    segment={[{ x: x - meanHalfWidth, y }, { x: x + meanHalfWidth, y }]}
                    stroke="#f2802f"
                    strokeWidth={2.6}
                />
            ))}
        </ScatterChart>
    </div>
);

export default function App() {
    return (
        <div
            style={{
                position: "absolute",
                left: 0,
                top: 0,
                width: 1536,
                height: 1024,
                background: "#fff",
                fontFamily: FONT,
                overflow: "hidden",
            }}
        >
            {/* heatmap */}
            <Label x={273} y={26} size={20.8}>Condition A</Label>
            <Label x={542} y={26} size={20.8}>Condition B</Label>
            <div style={{ position: "absolute", left: 140, top: 43, width: 261, height: 10.5, background: DARK }} />
            <div style={{ position: "absolute", left: 410, top: 43, width: 261, height: 10.5, background: ORANGE }} />
            <Heatmap />
            <Dendrogram />
            <Label x={692} y={108} size={18} align="left">Log<Sub>2</Sub></Label>
            <Label x={692} y={131} size={18} align="left">intensity</Label>
            <Colorbar />

            {/* volcano */}
            <Volcano />
            <Label x={1117} y={530} size={20.6}>Log<Sub>2</Sub> fold change (B vs A)</Label>
            <Label x={823} y={297} size={19.5} rotate={-90}>
                {"\u2212"}Log<Sub>10</Sub> (adjusted <i>p</i>)
            </Label>
            <LegendDot x={1368} y={106} r={7.5} fill={ORANGE} />
            <LegendDot x={1368} y={139} r={7.5} fill={DARK} />
            <LegendDot x={1368} y={172} r={7.5} fill={GREY} />
            <LegendDot x={1368} y={205} r={7.5} fill="#fff" stroke="#2f78ad" />
            <Label x={1392} y={107} size={18.2} align="left">Higher in B</Label>
            <Label x={1392} y={140} size={18.2} align="left">Higher in A</Label>
            <Label x={1392} y={173} size={18.2} align="left">Not significant</Label>
            <Label x={1392} y={206} size={18.2} align="left">Low abundance</Label>
            <Label x={1392} y={230} size={18.2} align="left">(evidence {"\u2264"} 3)</Label>

            {/* chromatograms */}
            <Label x={143} y={599} size={20}>A1</Label>
            <Label x={318} y={599} size={20}>A2</Label>
            <Label x={498} y={599} size={20}>B1</Label>
            <Label x={678} y={599} size={20}>B2</Label>
            <Chromatogram left={75.5} top={620} width={131.5} height={218} xDomain={[28.064, 28.826]} yDomain={[-.83, 17.2]} rt={rtA1} precursor={precursorA1} y7={y7A1} y5={y5A1} />
            <Chromatogram left={251} top={619} width={131.7} height={219.7} xDomain={[28.078, 28.818]} yDomain={[-.85, 17]} rt={rtA2} precursor={precursorA2} y7={y7A2} y5={y5A2} />
            <Chromatogram left={429.3} top={619.3} width={131.7} height={219.7} xDomain={[28.078, 28.81]} yDomain={[-.86, 16.7]} rt={rtB1} precursor={precursorB1} y7={y7B1} y5={y5B1} />
            <Chromatogram left={608.3} top={619.3} width={131.7} height={219.7} xDomain={[28.062, 28.819]} yDomain={[-.77, 15]} rt={rtB2} precursor={precursorB2} y7={y7B2} y5={y5B2} />
            <Label x={24} y={730} size={20.4} rotate={-90}>Intensity (10<Sup>3</Sup>)</Label>
            <Label x={406} y={896} size={19.8}>Retention time (min)</Label>
            <LegendLine x={85} y={947} width={38} color={DARK} />
            <LegendLine x={333} y={947} width={38} color="#ec8748" />
            <LegendLine x={536} y={947} width={38} color={BLUE} />
            <Label x={135} y={949} size={18.7} align="left">Precursor ({"\u00b1"}10 ppm)</Label>
            <Label x={384} y={949} size={18.7} align="left">Fragment (y7)</Label>
            <Label x={586} y={949} size={18.7} align="left">Fragment (y<span style={{ color: BLUE }}>5</span>)</Label>

            {/* peptides */}
            <Peptides />
            <Label x={797} y={742} size={20} rotate={-90}>Normalized intensity</Label>
            <LegendDot x={905} y={602} r={6.5} fill={DARK} />
            <LegendDot x={905} y={629} r={6.5} fill="#f2802f" />
            <Label x={924} y={603} size={17} align="left">Condition A</Label>
            <Label x={924} y={630} size={17} align="left">Condition B</Label>
        </div>
    );
}
